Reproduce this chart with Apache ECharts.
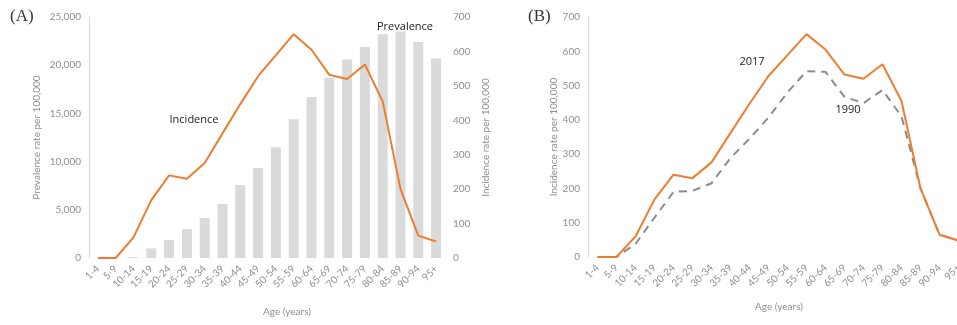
<!DOCTYPE html>
<html lang="en">

<head>
    <meta charset="UTF-8">
    <title>Incidence and prevalence by age</title>
    <script src="https://cdn.jsdelivr.net/npm/echarts@6/dist/echarts.min.js"></script>
    <style>
        body { margin: 0; background: #fff; }
    </style>
</head>

<body>
    <div id="main" style="width: 957px;height:325px;"></div>
    <script type="text/javascript">
        // age groups
        var ageGroups = ['1-4', '5-9', '10-14', '15-19', '20-24', '25-29', '30-34', '35-39', '40-44', '45-49',
            '50-54', '55-59', '60-64', '65-69', '70-74', '75-79', '80-84', '85-89', '90-94', '95+'];

        // (A) prevalence, left axis
        var prevalence = [0, 0, 100, 1000, 1870, 3000, 4150, 5600, 7570, 9340,
            11500, 14400, 16700, 18700, 20600, 21900, 23200, 23500, 22400, 20700];

        // incidence 2017 (used in A and B)
        var incidence2017 = [0, 0, 60, 168, 240, 230, 276, 362, 447, 528,
            589, 650, 605, 532, 520, 562, 455, 200, 65, 48];

        // incidence 1990 (B)
        var incidence1990 = [0, 0, 38, 115, 190, 193, 215, 289, 345, 407,
            480, 542, 540, 467, 449, 487, 410, 200, 65, 48];

        var prevTicks = [0, 5000, 10000, 15000, 20000, 25000];
        var incTicks = [0, 100, 200, 300, 400, 500, 600, 700];

        var myChart = echarts.init(document.getElementById('main'));

        var tickColor = '#8f8f8f';
        var font = 'Lato';

        function catAxis(grid) {
            return {
                type: 'category',
                gridIndex: grid,
                data: ageGroups,
                axisLine: { show: false },
                axisTick: { show: false },
                axisLabel: { rotate: 45, fontSize: 10, color: tickColor, fontFamily: font, margin: 9, interval: 0 }
            };
        }

        function valAxis(grid, ticks, opts) {
            return Object.assign({
                type: 'value',
                gridIndex: grid,
                min: ticks[0],
                max: ticks[ticks.length - 1],
                interval: ticks[1] - ticks[0],
                splitLine: { show: false },
                axisTick: { show: false },
                nameLocation: 'middle',
                nameTextStyle: { fontSize: 10, color: tickColor, fontFamily: font },
                axisLabel: { fontSize: 10, color: tickColor, fontFamily: font }
            }, opts);
        }

        var option = {
            animation: false,
            grid: [
                { left: 89, top: 17, width: 356, height: 241, outerBoundsMode: 'none' },
                // right panel runs past the edge of the picture
                { left: 588, top: 17, width: 380, height: 240, outerBoundsMode: 'none' }
            ],
            xAxis: [catAxis(0), catAxis(1)],
            yAxis: [
                valAxis(0, prevTicks, {
                    name: 'Prevalence rate per 100,000', nameGap: 47,
                    axisLine: { show: true, lineStyle: { color: '#d9d9d9' } },
                    axisLabel: {
                        fontSize: 10, color: tickColor, fontFamily: font,
                        formatter: function (v) { return v.toLocaleString('en-US'); }
                    }
                }),
                valAxis(0, incTicks, {
                    position: 'right', name: 'Incidence rate per 100,000', nameGap: 36,
                    axisLine: { show: false }
                }),
                valAxis(1, incTicks, {
                    name: 'Incidence rate per 100,000', nameGap: 29,
                    axisLine: { show: true, lineStyle: { color: '#d9d9d9' } }
                })
            ],
            series: [
                {
                    type: 'bar', xAxisIndex: 0, yAxisIndex: 0,
                    data: prevalence, barWidth: 10,
                    itemStyle: { color: '#dadada' }
                },
                {
                    type: 'line', xAxisIndex: 0, yAxisIndex: 1,
                    data: incidence2017, symbol: 'none',
                    lineStyle: { color: '#ed7d31', width: 2 }
                },
                {
                    type: 'line', xAxisIndex: 1, yAxisIndex: 2,
                    data: incidence1990, symbol: 'none',
                    lineStyle: { color: '#8c8c8c', width: 2, type: [8, 6] }
                },
                {
                    type: 'line', xAxisIndex: 1, yAxisIndex: 2,
                    data: incidence2017, symbol: 'none',
                    lineStyle: { color: '#ed7d31', width: 2 }
                }
            ],
            graphic: [
                { type: 'text', left: 10, top: 8, style: { text: '(A)', font: '17px "Liberation Serif"', fill: '#333' } },
                { type: 'text', left: 528, top: 8, style: { text: '(B)', font: '17px "Liberation Serif"', fill: '#333' } },
                { type: 'text', x: 194, y: 120, style: { text: 'Incidence', font: '11px "Open Sans"', fill: '#222', align: 'center', verticalAlign: 'middle' } },
                { type: 'text', x: 405, y: 27, style: { text: 'Prevalence', font: '11px "Open Sans"', fill: '#222', align: 'center', verticalAlign: 'middle' } },
                { type: 'text', x: 752, y: 62, style: { text: '2017', font: '11px "Open Sans"', fill: '#222', align: 'center', verticalAlign: 'middle' } },
                { type: 'text', x: 848, y: 110, style: { text: '1990', font: '11px "Open Sans"', fill: '#222', align: 'center', verticalAlign: 'middle' } },
                { type: 'text', x: 287, y: 312, style: { text: 'Age (years)', font: '10px Lato', fill: tickColor, align: 'center', verticalAlign: 'middle' } },
                { type: 'text', x: 779, y: 307, style: { text: 'Age (years)', font: '10px Lato', fill: tickColor, align: 'center', verticalAlign: 'middle' } }
            ]
        };

        myChart.setOption(option);
    </script>
</body>

</html>
